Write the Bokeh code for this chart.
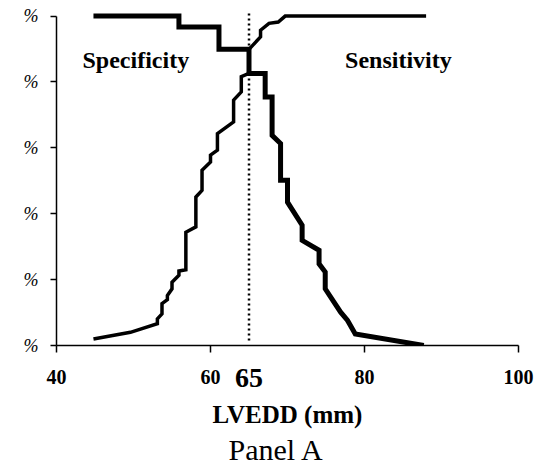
from bokeh.plotting import figure
from bokeh.models import Range1d, FixedTicker, Label, Title, LinearAxis
from bokeh.embed import file_html
from bokeh.resources import INLINE

# Data (x: LVEDD in mm, y: percent)
spec_x = [44.8, 55.9, 55.9, 61.1, 61.1, 65.0, 65.0, 67.1, 67.1, 68.0, 68.0, 69.1, 69.1,
          70.0, 70.0, 71.9, 71.9, 74.1, 74.1, 74.9, 74.9, 76.9, 77.8, 78.8, 87.7]
spec_y = [100, 100, 96.7, 96.7, 89.9, 89.9, 82.6, 82.6, 75.4, 75.4, 63.8, 61.3, 50.2,
          50.2, 43.5, 36.5, 31.9, 28.9, 24.8, 22.3, 17.2, 10.1, 7.6, 3.5, 0]

sens_x = [44.8, 49.6, 53.1, 53.1, 53.7, 53.7, 54.4, 54.4, 55.0, 55.0, 55.9, 55.9, 56.8,
          56.8, 58.1, 58.1, 58.9, 58.9, 60.0, 60.0, 60.9, 60.9, 63.0, 63.0, 64.0, 64.0,
          65.0, 65.0, 66.5, 66.5, 67.6, 68.8, 69.7, 88.0]
sens_y = [2.0, 4.0, 6.6, 8.1, 9.6, 12.7, 13.9, 15.2, 17.2, 19.2, 21.3, 22.6, 23.0,
          34.4, 36.0, 45.1, 47.1, 53.2, 55.7, 57.8, 59.3, 64.3, 67.9, 74.5, 77.0, 81.6,
          82.6, 89.9, 93.7, 95.7, 97.8, 98.2, 100, 100]

cutoff = 65
cutoff_x = [cutoff, cutoff]
cutoff_y = [1.5, 101.2]

x_ticks = [40, 60, 80, 100]
y_ticks = [0, 20, 40, 60, 80, 100]
y_tick_labels = ["%", "%", "%", "%", "%", "%"]

FONT = "Liberation Serif"

p = figure(width=545, height=465, output_backend="svg", toolbar_location=None,
           x_range=Range1d(40, 100), y_range=Range1d(0, 102),
           min_border_left=56, min_border_right=27, min_border_top=9,
           min_border_bottom=120)
p.outline_line_color = None
p.xgrid.visible = False
p.ygrid.visible = False
p.background_fill_color = "white"
p.border_fill_color = "white"

p.line(spec_x, spec_y, line_width=5, line_color="black", line_join="miter")
p.line(sens_x, sens_y, line_width=3.5, line_color="black", line_join="miter")
p.line(cutoff_x, cutoff_y, line_width=2.5, line_color="black", line_dash="2 3")

# main x axis
xa = p.xaxis[0]
xa.ticker = FixedTicker(ticks=x_ticks)
xa.minor_tick_line_color = None
xa.major_tick_out = 7
xa.major_tick_in = 0
xa.axis_line_width = 1.5
xa.axis_line_color = "black"
xa.major_tick_line_width = 1.5
xa.major_tick_line_color = "black"
xa.major_label_text_font = FONT
xa.major_label_text_font_style = "bold"
xa.major_label_text_font_size = "20px"
xa.major_label_text_color = "black"
xa.major_label_standoff = 17

# second x axis: only the cut-off label, pulled up to the tick-label row
xc = LinearAxis(ticker=FixedTicker(ticks=[cutoff]),
                major_label_overrides={cutoff: str(cutoff)})
xc.axis_line_color = None
xc.major_tick_line_color = None
xc.minor_tick_line_color = None
xc.major_tick_out = 0
xc.major_tick_in = 0
xc.major_label_text_font = FONT
xc.major_label_text_font_style = "bold"
xc.major_label_text_font_size = "28px"
xc.major_label_text_color = "black"
xc.major_label_standoff = -18
xc.axis_label = "LVEDD (mm)"
xc.axis_label_text_font = FONT
xc.axis_label_text_font_style = "bold"
xc.axis_label_text_font_size = "25px"
xc.axis_label_text_color = "black"
xc.axis_label_standoff = 11
p.add_layout(xc, "below")

# y axis
ya = p.yaxis[0]
ya.ticker = FixedTicker(ticks=y_ticks)
ya.bounds = (0, 100)
ya.major_label_overrides = {t: l for t, l in zip(y_ticks, y_tick_labels)}
ya.minor_tick_line_color = None
ya.major_tick_out = 6
ya.major_tick_in = 0
ya.axis_line_width = 1.5
ya.axis_line_color = "black"
ya.major_tick_line_width = 1.5
ya.major_tick_line_color = "black"
ya.major_label_text_font = FONT
ya.major_label_text_font_style = "italic"
ya.major_label_text_font_size = "18px"
ya.major_label_text_color = "black"
ya.major_label_standoff = 12

p.add_layout(Label(x=50.3, y=86.6, text="Specificity", text_font=FONT,
                   text_font_style="bold", text_font_size="24px",
                   text_color="black",
                   text_align="center", text_baseline="alphabetic"))
p.add_layout(Label(x=84.4, y=86.6, text="Sensitivity", text_font=FONT,
                   text_font_style="bold", text_font_size="24px",
                   text_color="black",
                   text_align="center", text_baseline="alphabetic"))

p.add_layout(Title(text="Panel A", align="left", offset=172, standoff=0,
                   text_font=FONT, text_font_style="normal",
                   text_font_size="30px", text_color="black"), "below")

open("out.html", "w").write(file_html(p, INLINE))
